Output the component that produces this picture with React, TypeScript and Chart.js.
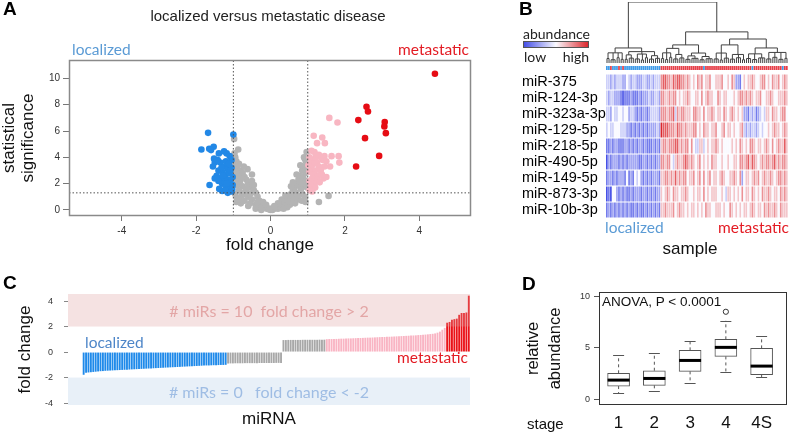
import React, { useEffect, useRef } from "react";
import { Chart, registerables } from "chart.js";

Chart.register(...registerables);

if (typeof document !== "undefined") document.body.style.margin = "0";

const SANS = '"Liberation Sans", Arial, Helvetica, sans-serif';
const CAL = 'Lato, "Open Sans", "Liberation Sans", sans-serif';
Chart.defaults.font.family = SANS;

const COL_BLUE = "#2288e6";
const COL_GREY = "#b4b4b4";
const COL_PINK = "#f8b6c2";
const COL_RED = "#e60c14";
const TXT_BLUE = "#5b9bd5";
const TXT_RED = "#e31b23";

// ---------------- Panel A : volcano ----------------
const redPoints = [
  [4.42, 10.36], [2.58, 7.84], [2.62, 7.49], [2.36, 6.83], [3.07, 6.68],
  [3.06, 6.35], [3.1, 5.84], [2.54, 5.46], [2.92, 4.11], [2.3, 3.3],
];
const pinkPoints = [
  [1.58, 7.0], [1.8, 6.65], [1.16, 5.64], [1.39, 5.51], [1.25, 5.08], [1.46, 5.08], [1.1, 4.5], [1.18, 4.4],
  [1.3, 4.2], [1.45, 4.1], [1.64, 4.09], [1.83, 4.09], [1.85, 3.6], [1.4, 3.8], [1.35, 4.0], [1.2, 3.9],
  [1.05, 4.0], [1.08, 3.6], [1.15, 3.5], [1.25, 3.6], [1.5, 3.7], [1.3, 3.3], [1.45, 3.3], [1.1, 3.2],
  [1.2, 3.0], [1.35, 3.0], [1.05, 2.9], [1.15, 2.7], [1.28, 2.6], [1.42, 2.4], [1.12, 2.4], [1.25, 2.3],
  [1.05, 2.2], [1.18, 2.0], [1.32, 2.1], [1.08, 1.8], [1.2, 1.7], [1.05, 1.5], [1.12, 1.4], [1.6, 3.3],
  [1.02, 3.4], [1.22, 4.2], [1.38, 2.7], [1.5, 2.5],
];
const bluePoints = [
  [-1.68, 5.86], [-1.0, 5.73], [-1.86, 4.6], [-1.53, 4.8], [-1.65, 4.65], [-1.6, 4.55], [-1.39, 4.3], [-1.25, 4.45],
  [-1.18, 4.3], [-1.1, 4.1], [-1.05, 3.8], [-1.52, 3.9], [-1.5, 3.6], [-1.55, 3.3], [-1.35, 3.6], [-1.2, 3.7],
  [-1.25, 3.3], [-1.15, 3.1], [-1.05, 3.2], [-1.4, 3.0], [-1.3, 2.9], [-1.2, 2.7], [-1.1, 2.8], [-1.02, 2.5],
  [-1.45, 2.6], [-1.35, 2.4], [-1.25, 2.2], [-1.15, 2.3], [-1.08, 2.1], [-1.3, 2.0], [-1.2, 1.8], [-1.1, 1.7],
  [-1.02, 1.9], [-1.64, 1.9], [-1.3, 1.45], [-1.15, 1.3], [-1.05, 1.4], [-1.4, 2.2], [-1.5, 2.4], [-1.28, 2.6],
  [-1.12, 3.5], [-1.03, 1.6], [-1.22, 1.5], [-1.38, 1.6], [-1.18, 2.0], [-1.08, 3.0], [-1.32, 3.2], [-1.42, 3.8],
];
const greyPoints = [
  [-0.98, 5.4], [-0.97, 4.3], [-0.95, 4.0], [-0.92, 3.7], [-0.96, 3.4], [-0.9, 3.2], [-0.85, 3.5], [-0.8, 3.0],
  [-0.93, 2.9], [-0.88, 2.6], [-0.75, 2.8], [-0.7, 2.5], [-0.95, 2.3], [-0.82, 2.2], [-0.65, 2.3], [-0.6, 2.0],
  [-0.9, 1.9], [-0.75, 1.8], [-0.55, 1.7], [-0.5, 2.2], [-0.85, 1.5], [-0.68, 1.4], [-0.45, 1.5], [-0.4, 1.3],
  [-0.95, 1.2], [-0.78, 1.1], [-0.6, 1.0], [-0.35, 1.0], [-0.9, 0.9], [-0.7, 0.7], [-0.5, 0.8], [-0.3, 0.7],
  [-0.25, 0.5], [-0.55, 0.5], [-0.4, 0.4], [-0.2, 0.3], [-0.15, 0.2], [-0.1, 0.1], [-0.3, 0.2], [-0.05, 0.05],
  [-0.62, 3.1], [-0.5, 2.7], [-0.72, 3.3], [-0.87, 4.6], [-0.8, 2.4], [-0.98, 2.0], [-0.45, 1.9], [-0.65, 1.6],
  [-0.92, 0.6], [-0.8, 0.5], [-0.7, 1.2], [-0.2, 0.6], [-0.12, 0.4], [-0.35, 0.6], [-0.55, 1.2], [-0.6, 0.3],
  [-0.85, 0.8], [-0.4, 0.1], [-0.25, 0.0],
  [0.05, 0.0], [0.1, 0.1], [0.15, 0.2], [0.2, 0.1], [0.25, 0.3], [0.3, 0.4], [0.35, 0.6], [0.4, 0.5],
  [0.45, 0.8], [0.5, 1.0], [0.55, 1.2], [0.6, 1.5], [0.65, 1.7], [0.7, 2.0], [0.75, 2.3], [0.8, 2.6],
  [0.85, 3.0], [0.9, 3.3], [0.95, 3.7], [0.97, 4.4], [0.92, 3.9], [0.88, 2.4], [0.78, 1.9], [0.68, 1.3],
  [0.58, 0.9], [0.48, 0.6], [0.38, 0.3], [0.28, 0.15], [0.95, 2.8], [0.9, 2.0], [0.82, 1.6], [0.72, 1.1],
  [0.62, 0.8], [0.52, 0.4], [0.96, 2.2], [0.98, 1.7], [0.86, 1.2], [0.76, 0.8], [0.66, 0.5], [0.93, 1.0],
  [0.84, 0.7], [0.94, 0.6], [0.8, 3.4], [0.85, 2.0], [0.7, 2.7], [0.6, 2.1], [0.3, 0.8], [0.2, 0.5],
  [0.0, 0.0], [-0.02, 0.1], [0.1, 0.3], [0.4, 1.1], [0.55, 1.8], [0.45, 0.2], [0.35, 0.1], [1.3, 0.6],
  [1.56, 1.07], [0.98, 3.2], [0.9, 4.0],
];
const volcanoXTicks = [-4, -2, 0, 2, 4];
const volcanoYTicks = [0, 2, 4, 6, 8, 10];
const fcThreshold = 1;
const sigThreshold = 1.3;

// ---------------- Panel B : heatmap ----------------
const mirNames = [
  "miR-375", "miR-124-3p", "miR-323a-3p", "miR-129-5p", "miR-218-5p",
  "miR-490-5p", "miR-149-5p", "miR-873-3p", "miR-10b-3p",
];
// levels 0 (low, blue) .. 4 (white) .. 8 (high, red); one char per sample
const heatRows = [
  "332323332243233222332232333" + "67766576776656" + "545465645564455" + "564454652214545" + "5654456645465564565",
  "323322210111211121222322332" + "665565664545565445" + "546456554465" + "455444545665" + "656545564455654455565",
  "332433443442332121221233332" + "66656673656655" + "546655464556545" + "546545654545" + "22132312343" + "55465545664",
  "343344433322121212121222232" + "87776665766565" + "556645465545564" + "456455454456" + "32323323434" + "45456554565",
  "112122111221212122121112121" + "56656667756566" + "464335534545565" + "454444545465" + "45466545545" + "65464565575",
  "021222121212222211221212122" + "66566435655676" + "565456454546554" + "454454455466" + "56757654565" + "66567565665",
  "122121222141214342121212221" + "55665657565664" + "556456464564554" + "565445565462" + "45545656456" + "55654566565",
  "010442121211212221221212122" + "54565465545565" + "445455464545554" + "454355454546" + "45546545465" + "56545546565",
  "121212121212112121121212121" + "55655564565545" + "455454546554455" + "545446545454" + "55456545546" + "56556546555",
];
// sample group: L = localized, M = metastatic
const sampleGroups =
  "LLMLLLMLMLLLLLLLLLLLLLLLLLL" +
  "MMMMMMMMMMMMMMMMMMMMMLMMMMMMMMMMMMMMMMMMMMMMMLMMMMMMMMMMMMMMLMM";
const nSamples = 90;

const N = (h: number, c: any[]) => ({ h, c });
const G = (s: number, e: number, h: number) => ({ s, e, h });
const dendroTree = N(30, [
  N(7.4, [
    N(5.0, [G(0, 1, 2.2), G(2, 4, 1.6), G(5, 6, 2.6), G(7, 8, 1.8)]),
    N(5.6, [
      N(4.0, [G(9, 10, 1.8), G(11, 13, 2.4)]),
      N(4.4, [G(14, 16, 2.0), G(17, 18, 1.5), G(19, 20, 2.6)]),
      N(3.6, [G(21, 23, 1.9), G(24, 26, 2.3)]),
    ]),
  ]),
  N(15.3, [
    N(8.9, [
      N(7.2, [N(5.0, [G(27, 28, 2.2), G(29, 30, 1.7), G(31, 32, 2.8)]), N(4.2, [G(33, 35, 2.0), G(36, 38, 2.5)])]),
      N(4.9, [N(3.5, [G(39, 41, 1.8), G(42, 45, 2.3)]), N(3.2, [G(46, 48, 1.6), G(49, 52, 2.1)])]),
    ]),
    N(11.8, [
      N(8.9, [N(4.9, [G(53, 55, 2.0), G(56, 57, 1.5), G(58, 60, 2.4)]), N(4.2, [G(61, 63, 1.9), G(64, 66, 2.6), G(67, 68, 1.6)])]),
      N(7.4, [N(4.5, [G(69, 71, 2.2), G(72, 74, 1.7), G(75, 78, 2.5)]), N(5.2, [G(79, 81, 2.0), G(82, 84, 2.8), G(85, 87, 1.8), G(88, 89, 2.3)])]),
    ]),
  ]),
]);

// ---------------- Panel C : waterfall ----------------
const fcBlue = [
  -1.78, -1.63, -1.6, -1.58, -1.56, -1.54, -1.52, -1.5, -1.49, -1.47, -1.46, -1.45, -1.44, -1.43, -1.42,
  -1.41, -1.4, -1.39, -1.38, -1.37, -1.36, -1.35, -1.34, -1.33, -1.32, -1.31, -1.3, -1.29, -1.28, -1.27,
  -1.26, -1.25, -1.24, -1.23, -1.22, -1.21, -1.2, -1.19, -1.18, -1.17, -1.16, -1.15, -1.14, -1.13, -1.12,
  -1.11, -1.1, -1.09, -1.08, -1.07, -1.06, -1.05, -1.05, -1.04, -1.03, -1.03, -1.02, -1.01, -1.01, -1.0,
];
const fcGreyNeg = [
  -0.9, -0.89, -0.89, -0.88, -0.88, -0.88, -0.88, -0.87, -0.87, -0.87, -0.87, -0.87, -0.87, -0.86,
  -0.86, -0.86, -0.86, -0.86, -0.86, -0.86, -0.85, -0.85, -0.85,
];
const fcGreyPos = [0.94, 0.94, 0.95, 0.95, 0.95, 0.95, 0.95, 0.95, 0.96, 0.96, 0.96, 0.96, 0.96, 0.96, 0.96, 0.97, 0.97, 0.97];
const fcPink = [
  1.01, 1.02, 1.02, 1.03, 1.03, 1.04, 1.05, 1.05, 1.06, 1.07, 1.07, 1.08, 1.09, 1.1, 1.1, 1.11, 1.12,
  1.13, 1.13, 1.14, 1.15, 1.16, 1.17, 1.18, 1.18, 1.19, 1.2, 1.21, 1.22, 1.23, 1.24, 1.25, 1.26, 1.27,
  1.28, 1.29, 1.3, 1.31, 1.33, 1.34, 1.36, 1.37, 1.39, 1.41, 1.43, 1.46, 1.52, 1.6, 1.75, 1.9,
];
const fcRed = [2.3, 2.36, 2.54, 2.58, 2.62, 2.92, 3.06, 3.07, 3.1, 4.42];
const waterfallTicks = [-4, -2, 0, 2, 4];
const bandLimit = 2;

// ---------------- Panel D : boxplot ----------------
const stages = ["1", "2", "3", "4", "4S"];
const boxLow = [0.55, 0.78, 1.52, 2.62, 2.14];
const boxQ1 = [1.26, 1.33, 2.69, 4.14, 2.36];
const boxMedian = [1.84, 2.0, 3.75, 5.02, 3.2];
const boxQ3 = [2.5, 2.75, 4.73, 5.8, 4.92];
const boxHigh = [4.27, 4.44, 5.6, 7.6, 6.12];
const outlierStage = [4];
const outlierValue = [8.48];
const boxYTicks = [0, 5, 10];

// ---------------- helpers ----------------
const fixTicks = (vals: number[]) => (s: any) => {
  s.ticks = vals.map((v) => ({ value: v }));
};
const pts = (arr: number[][]) => arr.map(([x, y]) => ({ x, y }));

function levelColor(ch: string) {
  const l = parseInt(ch, 10);
  const t = (l - 4) / 4;
  const w = [250, 250, 255];
  const end = t < 0 ? [70, 80, 230] : [220, 40, 45];
  const a = Math.abs(t);
  const c = w.map((v, i) => Math.round(v * (1 - a) + end[i] * a));
  return `rgb(${c[0]},${c[1]},${c[2]})`;
}

function buildDendro(node: any, out: any[]): { x: number; h: number } {
  const seg = (x1: number, y1: number, x2: number, y2: number) => {
    out.push({ x: x1, y: y1 }, { x: x2, y: y2 }, { x: x2, y: null });
  };
  if (node.c) {
    const kids = node.c.map((k: any) => buildDendro(k, out));
    kids.forEach((k: any) => seg(k.x, k.h, k.x, node.h));
    const x0 = kids[0].x;
    const x1 = kids[kids.length - 1].x;
    seg(x0, node.h, x1, node.h);
    return { x: (x0 + x1) / 2, h: node.h };
  }
  const xs: number[] = [];
  for (let i = node.s; i <= node.e; i++) xs.push(i + 0.5);
  xs.forEach((x) => seg(x, 0, x, node.h));
  seg(xs[0], node.h, xs[xs.length - 1], node.h);
  return { x: (xs[0] + xs[xs.length - 1]) / 2, h: node.h };
}

const framePlugin = (color: string, width: number) => ({
  id: "frame",
  afterDatasetsDraw(chart: any) {
    const { ctx, chartArea: a } = chart;
    ctx.save();
    ctx.strokeStyle = color;
    ctx.lineWidth = width;
    ctx.strokeRect(a.left + 0.5, a.top + 0.5, a.right - a.left - 1, a.bottom - a.top - 1);
    ctx.restore();
  },
});

// ---------------- chart configs ----------------
function configA(): any {
  const yMin = -0.46, yMax = 11.4;
  const R = 3.3;
  return {
    type: "scatter",
    data: {
      datasets: [
        { data: pts(redPoints), backgroundColor: COL_RED, pointRadius: R, borderWidth: 0, order: 0 },
        { data: pts(pinkPoints), backgroundColor: COL_PINK, pointRadius: R, borderWidth: 0, order: 1 },
        { data: pts(bluePoints), backgroundColor: COL_BLUE, pointRadius: R, borderWidth: 0, order: 2 },
        { data: pts(greyPoints), backgroundColor: COL_GREY, pointRadius: R, borderWidth: 0, order: 3 },
        { data: [{ x: -fcThreshold, y: yMin }, { x: -fcThreshold, y: yMax }], showLine: true, borderColor: "#555", borderWidth: 1, borderDash: [1.5, 2], pointRadius: 0, order: -1 },
        { data: [{ x: fcThreshold, y: yMin }, { x: fcThreshold, y: yMax }], showLine: true, borderColor: "#555", borderWidth: 1, borderDash: [1.5, 2], pointRadius: 0, order: -1 },
        { data: [{ x: -5.42, y: sigThreshold }, { x: 5.39, y: sigThreshold }], showLine: true, borderColor: "#555", borderWidth: 1, borderDash: [1.5, 2], pointRadius: 0, order: -1 },
      ],
    },
    options: {
      responsive: true, maintainAspectRatio: false, animation: false,
      layout: { padding: { left: 0, right: 9, top: 60, bottom: 4 } },
      plugins: { legend: { display: false }, tooltip: { enabled: false } },
      scales: {
        x: {
          type: "linear", min: -5.42, max: 5.39,
          afterBuildTicks: fixTicks(volcanoXTicks),
          afterFit: (s: any) => { s.height = 40; },
          grid: { drawOnChartArea: false, drawTicks: true, tickLength: 5, color: "#777" },
          border: { display: false },
          ticks: { font: { size: 10 }, color: "#333", padding: 4, maxRotation: 0 },
          title: { display: true, text: "fold change", font: { size: 17 }, color: "#111", padding: { top: 0, bottom: 0 } },
        },
        y: {
          type: "linear", min: yMin, max: yMax,
          afterBuildTicks: fixTicks(volcanoYTicks),
          afterFit: (s: any) => { s.width = 69; },
          grid: { drawOnChartArea: false, drawTicks: true, tickLength: 6, color: "#777" },
          border: { display: false },
          ticks: { font: { size: 10 }, color: "#333", padding: 3 },
          title: { display: true, text: ["statistical", "significance"], font: { size: 17, lineHeight: 1.1 }, color: "#111", padding: { top: 0, bottom: 0 } },
        },
      },
    },
    plugins: [framePlugin("#8a8a8a", 1.5)],
  };
}

function configDendro(): any {
  const segs: any[] = [];
  buildDendro(dendroTree, segs);
  return {
    type: "line",
    data: {
      datasets: [{ data: segs, borderColor: "#404040", borderWidth: 1, pointRadius: 0, spanGaps: false, fill: false, tension: 0 }],
    },
    options: {
      responsive: true, maintainAspectRatio: false, animation: false,
      layout: { padding: { left: 90, right: 4, top: 2, bottom: 3 } },
      plugins: { legend: { display: false }, tooltip: { enabled: false } },
      scales: {
        x: { type: "linear", min: 0, max: nSamples, display: false },
        y: { type: "linear", min: 0, max: 30, display: false },
      },
    },
  };
}

function configHeat(): any {
  const heatPlugin = {
    id: "heat",
    beforeDatasetsDraw(chart: any) {
      const { ctx } = chart;
      const xs = chart.scales.x;
      const ys = chart.scales.y;
      ctx.save();
      const sy0 = ys.getPixelForValue(-0.5);
      const sy1 = ys.getPixelForValue(-0.25);
      for (let i = 0; i < nSamples; i++) {
        const x0 = xs.getPixelForValue(i);
        const x1 = xs.getPixelForValue(i + 1);
        ctx.fillStyle = sampleGroups[i] === "L" ? "#3f9be8" : "#e6404a";
        ctx.fillRect(x0, sy0, x1 - x0 - 0.3, sy1 - sy0);
      }
      heatRows.forEach((row, r) => {
        const y0 = ys.getPixelForValue(r);
        const y1 = ys.getPixelForValue(r + 1);
        for (let i = 0; i < nSamples; i++) {
          const x0 = xs.getPixelForValue(i);
          const x1 = xs.getPixelForValue(i + 1);
          ctx.fillStyle = levelColor(row[i] ?? "4");
          ctx.fillRect(x0, y0 + 0.5, x1 - x0 - 0.35, y1 - y0 - 1);
        }
      });
      ctx.restore();
    },
  };
  return {
    type: "scatter",
    data: { datasets: [{ data: [] }] },
    options: {
      responsive: true, maintainAspectRatio: false, animation: false,
      layout: { padding: { left: 6, right: 4, top: 12, bottom: 12 } },
      plugins: { legend: { display: false }, tooltip: { enabled: false } },
      scales: {
        x: { type: "linear", min: 0, max: nSamples, display: false },
        y: {
          type: "linear", min: -0.75, max: 9, reverse: true,
          afterBuildTicks: fixTicks(mirNames.map((_, i) => i + 0.5)),
          afterFit: (s: any) => { s.width = 84; },
          grid: { display: false, drawTicks: false },
          border: { display: false },
          ticks: { autoSkip: false, crossAlign: "far", padding: 0, font: { size: 14.5 }, color: "#000", callback: (_v: any, i: number) => mirNames[i] },
        },
      },
    },
    plugins: [heatPlugin],
  };
}

function configC(): any {
  const values = [...fcBlue, ...fcGreyNeg, ...fcGreyPos, ...fcPink, ...fcRed];
  const colors = [
    ...fcBlue.map(() => "#1f8aea"),
    ...fcGreyNeg.map(() => "#a8a8a8"),
    ...fcGreyPos.map(() => "#a8a8a8"),
    ...fcPink.map(() => "#f9b4c3"),
    ...fcRed.map(() => "#ea1218"),
  ];
  const yMin = -4.15, yMax = 4.55;
  const bandPlugin = {
    id: "bands",
    afterDatasetsDraw(chart: any) {
      const { ctx, chartArea: a } = chart;
      const ys = chart.scales.y;
      ctx.save();
      ctx.fillStyle = "rgba(222,158,158,0.3)";
      const p0 = ys.getPixelForValue(yMax), p1 = ys.getPixelForValue(bandLimit);
      ctx.fillRect(a.left, p0, a.right - a.left, p1 - p0);
      ctx.fillStyle = "rgba(178,205,232,0.3)";
      const n0 = ys.getPixelForValue(-bandLimit), n1 = ys.getPixelForValue(yMin);
      ctx.fillRect(a.left, n0, a.right - a.left, n1 - n0);
      ctx.restore();
    },
  };
  return {
    type: "bar",
    data: {
      datasets: [{
        data: values.map((v, i) => ({ x: i, y: v })),
        backgroundColor: colors, borderWidth: 0,
        barPercentage: 0.78, categoryPercentage: 1,
      }],
    },
    options: {
      responsive: true, maintainAspectRatio: false, animation: false,
      layout: { padding: { left: 0, right: 10, top: 34, bottom: 0 } },
      plugins: { legend: { display: false }, tooltip: { enabled: false } },
      scales: {
        x: {
          type: "linear", min: -6.5, max: values.length - 0.5, offset: false,
          afterFit: (s: any) => { s.height = 27; },
          grid: { display: false, drawTicks: false }, border: { display: false },
          ticks: { display: false },
          title: { display: true, text: "miRNA", font: { size: 17 }, color: "#111", padding: { top: 0, bottom: 2 } },
        },
        y: {
          type: "linear", min: yMin, max: yMax,
          afterBuildTicks: fixTicks(waterfallTicks),
          afterFit: (s: any) => { s.width = 68; },
          grid: { drawOnChartArea: false, drawTicks: true, tickLength: 4, color: "#888" },
          border: { display: false },
          ticks: { font: { size: 9 }, color: "#333", padding: 11 },
          title: { display: true, text: "fold change", font: { size: 17, lineHeight: 1.2 }, color: "#111", padding: { top: 15, bottom: 0 } },
        },
      },
    },
    plugins: [bandPlugin],
  };
}

function configD(): any {
  const whiskerPlugin = {
    id: "whiskers",
    afterDatasetsDraw(chart: any) {
      const { ctx } = chart;
      const xs = chart.scales.x;
      const ys = chart.scales.y;
      ctx.save();
      stages.forEach((_, i) => {
        const cx = xs.getPixelForValue(i + 1);
        ctx.strokeStyle = "#555";
        ctx.lineWidth = 1;
        ctx.setLineDash([3, 3]);
        ctx.beginPath();
        ctx.moveTo(cx, ys.getPixelForValue(boxQ3[i]));
        ctx.lineTo(cx, ys.getPixelForValue(boxHigh[i]));
        ctx.moveTo(cx, ys.getPixelForValue(boxQ1[i]));
        ctx.lineTo(cx, ys.getPixelForValue(boxLow[i]));
        ctx.stroke();
        ctx.setLineDash([]);
        ctx.beginPath();
        [boxHigh[i], boxLow[i]].forEach((v) => {
          const y = Math.round(ys.getPixelForValue(v)) + 0.5;
          ctx.moveTo(cx - 5.5, y);
          ctx.lineTo(cx + 5.5, y);
        });
        ctx.stroke();
        ctx.strokeStyle = "#000";
        ctx.lineWidth = 3;
        ctx.beginPath();
        const my = ys.getPixelForValue(boxMedian[i]);
        ctx.moveTo(cx - 11, my);
        ctx.lineTo(cx + 11, my);
        ctx.stroke();
      });
      ctx.restore();
    },
  };
  return {
    type: "bar",
    data: {
      datasets: [
        {
          type: "bar",
          data: stages.map((_, i) => ({ x: i + 1, y: [boxQ1[i], boxQ3[i]] })),
          backgroundColor: "#fff", borderColor: "#555", borderWidth: 1, borderSkipped: false,
          barThickness: 22, grouped: false,
        },
        {
          type: "scatter",
          data: outlierStage.map((s, i) => ({ x: s, y: outlierValue[i] })),
          pointRadius: 2.6, borderColor: "#333", backgroundColor: "#fff", borderWidth: 1,
        },
      ],
    },
    options: {
      responsive: true, maintainAspectRatio: false, animation: false,
      layout: { padding: { left: 0, right: 1, top: 32, bottom: 0 } },
      plugins: { legend: { display: false }, tooltip: { enabled: false } },
      scales: {
        x: {
          type: "linear", min: 0.452, max: 5.71, offset: false,
          afterBuildTicks: fixTicks(stages.map((_, i) => i + 1)),
          afterFit: (s: any) => { s.height = 27; },
          grid: { display: false, drawTicks: false }, border: { display: false },
          ticks: { font: { size: 17 }, color: "#111", padding: 8, callback: (_v: any, i: number) => stages[i] },
        },
        y: {
          type: "linear", min: -0.58, max: 10.4,
          afterBuildTicks: fixTicks(boxYTicks),
          afterFit: (s: any) => { s.width = 99; },
          grid: { drawOnChartArea: false, drawTicks: true, tickLength: 5, color: "#555" },
          border: { display: false },
          ticks: { font: { size: 9 }, color: "#333", padding: 4 },
          title: { display: true, text: ["relative", "abundance"], font: { size: 16.5, lineHeight: 1.3 }, color: "#111", padding: { top: 23, bottom: 0 } },
        },
      },
    },
    plugins: [whiskerPlugin, framePlugin("#333", 1)],
  };
}

// ---------------- components ----------------
function Label(props: any) {
  const { x, y, align = "left", size = 15, color = "#222", font = SANS, bold = false, children } = props;
  const tx = align === "left" ? "0" : align === "center" ? "-50%" : "-100%";
  return (
    <div
      style={{
        position: "absolute", left: x, top: y, transform: `translate(${tx},-50%)`,
        fontSize: size, color, fontFamily: font, fontWeight: bold ? 700 : 400,
        whiteSpace: "pre", lineHeight: 1,
      }}
    >
      {children}
    </div>
  );
}

function Box(props: any) {
  const { l, t, w, h, children } = props;
  return <div style={{ position: "absolute", left: l, top: t, width: w, height: h }}>{children}</div>;
}

export default function App() {
  const refA = useRef<HTMLCanvasElement>(null);
  const refDen = useRef<HTMLCanvasElement>(null);
  const refHeat = useRef<HTMLCanvasElement>(null);
  const refC = useRef<HTMLCanvasElement>(null);
  const refD = useRef<HTMLCanvasElement>(null);

  useEffect(() => {
    const charts: Chart[] = [];
    charts.push(new Chart(refA.current as HTMLCanvasElement, configA()));
    charts.push(new Chart(refDen.current as HTMLCanvasElement, configDendro()));
    charts.push(new Chart(refHeat.current as HTMLCanvasElement, configHeat()));
    charts.push(new Chart(refC.current as HTMLCanvasElement, configC()));
    charts.push(new Chart(refD.current as HTMLCanvasElement, configD()));
    return () => charts.forEach((c) => c.destroy());
  }, []);

  return (
    <div style={{ position: "relative", width: 792, height: 432, overflow: "hidden", background: "#fff", fontFamily: SANS }}>
      <Box l={0} t={0} w={480} h={260}><canvas ref={refA} /></Box>
      <Box l={516} t={0} w={276} h={66}><canvas ref={refDen} /></Box>
      <Box l={516} t={50} w={276} h={180}><canvas ref={refHeat} /></Box>
      <Box l={0} t={260} w={480} h={172}><canvas ref={refC} /></Box>
      <Box l={500} t={260} w={292} h={172}><canvas ref={refD} /></Box>

      {/* Panel A texts */}
      <Label x={3} y={8} size={19} bold color="#000">A</Label>
      <Label x={268} y={15} align="center" size={15} color="#222">localized versus metastatic disease</Label>
      <Label x={72} y={50} size={15.5} font={CAL} color={TXT_BLUE}>localized</Label>
      <Label x={469} y={50} align="right" size={15.5} font={CAL} color={TXT_RED}>metastatic</Label>

      {/* Panel B texts */}
      <Label x={519} y={8} size={19} bold color="#000">B</Label>
      <Label x={523} y={34} size={14} font={CAL} color="#222">abundance</Label>
      <div
        style={{
          position: "absolute", left: 523, top: 41, width: 64, height: 5,
          border: "1px solid #555",
          background: "linear-gradient(to right, rgb(70,80,230), rgb(250,250,255), rgb(220,40,45))",
        }}
      />
      <Label x={524} y={57} size={14} font={CAL} color="#222">low</Label>
      <Label x={589} y={57} align="right" size={14} font={CAL} color="#222">high</Label>
      <Label x={605} y={228} size={15.5} font={CAL} color={TXT_BLUE}>localized</Label>
      <Label x={789} y={228} align="right" size={15.5} font={CAL} color={TXT_RED}>metastatic</Label>
      <Label x={690} y={248} align="center" size={17} color="#111">sample</Label>

      {/* Panel C texts */}
      <Label x={3} y={282} size={19} bold color="#000">C</Label>
      <Label x={269} y={311} align="center" size={16} font={CAL} color="#e3a6a6">{"# miRs = 10  fold change > 2"}</Label>
      <Label x={269} y={392} align="center" size={16} font={CAL} color="#9fbde4">{"# miRs = 0   fold change < -2"}</Label>
      <Label x={85} y={343} size={15.5} font={CAL} color="#4e86c8">localized</Label>
      <Label x={468} y={358} align="right" size={15.5} font={CAL} color={TXT_RED}>metastatic</Label>

      {/* Panel D texts */}
      <Label x={522} y={283} size={19} bold color="#000">D</Label>
      <Label x={602} y={302} size={13.5} color="#111">ANOVA, P &lt; 0.0001</Label>
      <Label x={527} y={423} size={15} color="#111">stage</Label>
    </div>
  );
}
